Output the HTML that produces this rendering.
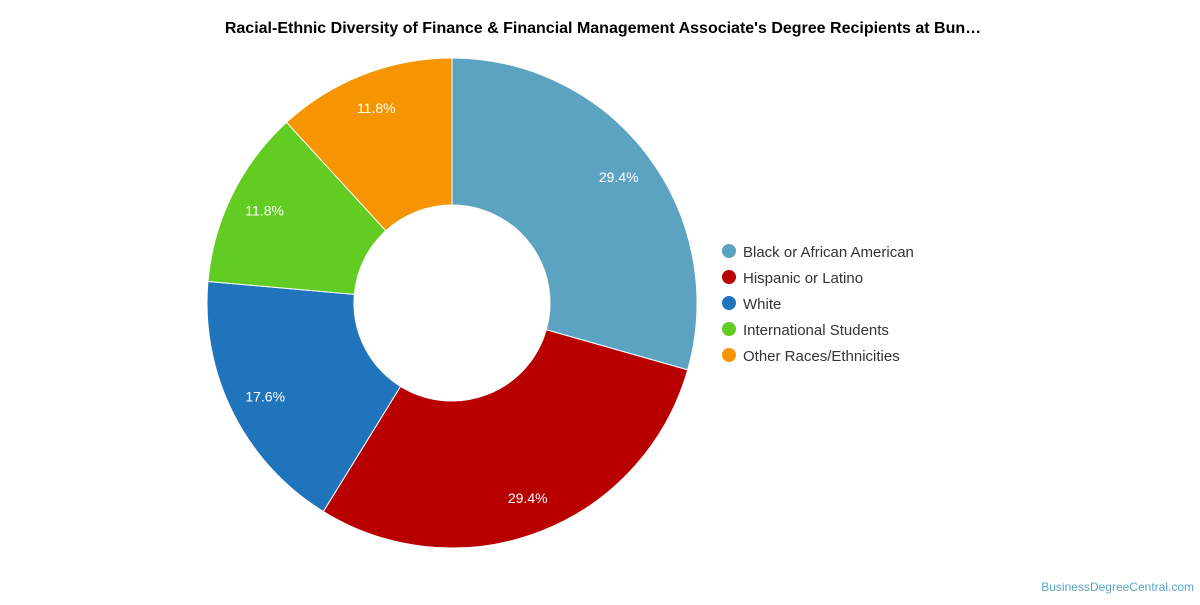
<!DOCTYPE html>
<html><head><meta charset="utf-8"><style>
body{margin:0;background:#fff;font-family:"Liberation Sans",Arial,sans-serif}
</style></head><body>
<svg width="1200" height="600" viewBox="0 0 1200 600">
<text x="603" y="33" text-anchor="middle" font-size="16" font-weight="bold" fill="#000">Racial-Ethnic Diversity of Finance &amp; Financial Management Associate's Degree Recipients at Bun…</text>
<g id="slices"></g>
<g id="labels"></g>
<g id="legend"></g>
<text x="1194" y="591" text-anchor="end" font-size="12" fill="#5ba3c5">BusinessDegreeCentral.com</text>
</svg>
<script>
const categories=["Black or African American","Hispanic or Latino","White","International Students","Other Races/Ethnicities"];
const values=[29.4,29.4,17.6,11.8,11.8];
const labels=["29.4%","29.4%","17.6%","11.8%","11.8%"];
const colors=["#5ba3c1","#b90000","#1f74bb","#62cc22","#f79500"];
const cx=452,cy=303,R=245,r=98,LR=209;
const ns="http://www.w3.org/2000/svg";
const total=values.reduce((a,b)=>a+b,0);
let a0=0;
const S=document.getElementById('slices'),L=document.getElementById('labels'),G=document.getElementById('legend');
function pt(a,rad){return [cx+rad*Math.sin(a),cy-rad*Math.cos(a)];}
values.forEach((v,i)=>{
 const a1=a0+v/total*2*Math.PI;const big=(a1-a0)>Math.PI?1:0;
 const [x1,y1]=pt(a0,R),[x2,y2]=pt(a1,R),[x3,y3]=pt(a1,r),[x4,y4]=pt(a0,r);
 const p=document.createElementNS(ns,'path');
 p.setAttribute('d',`M${x1},${y1}A${R},${R} 0 ${big} 1 ${x2},${y2}L${x3},${y3}A${r},${r} 0 ${big} 0 ${x4},${y4}Z`);
 p.setAttribute('fill',colors[i]);p.setAttribute('stroke','#fff');p.setAttribute('stroke-width','1');
 
 
 S.appendChild(p);
 const [lx,ly]=pt((a0+a1)/2,LR);
 const t=document.createElementNS(ns,'text');
 t.setAttribute('x',lx);t.setAttribute('y',ly+5);t.setAttribute('text-anchor','middle');
 t.setAttribute('font-size','14');t.setAttribute('fill','#fff');t.textContent=labels[i];
 
 
 L.appendChild(t);
 const c=document.createElementNS(ns,'circle');
 c.setAttribute('cx',729);c.setAttribute('cy',251+26*i);c.setAttribute('r',7);c.setAttribute('fill',colors[i]);
 
 
 G.appendChild(c);
 const lt=document.createElementNS(ns,'text');
 lt.setAttribute('x',743);lt.setAttribute('y',257+26*i);lt.setAttribute('font-size','15');lt.setAttribute('fill','#333');
 lt.textContent=categories[i];
 
 
 G.appendChild(lt);
 a0=a1;
});
</script>
</body></html>
